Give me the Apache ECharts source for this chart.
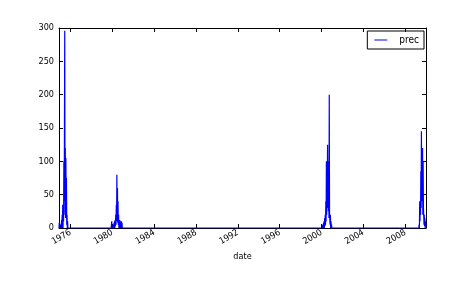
<!DOCTYPE html>
<html>
<head>
<meta charset="utf-8">
<script src="https://cdn.jsdelivr.net/npm/echarts@6/dist/echarts.min.js"></script>
<style>
html,body{margin:0;padding:0;background:#fff;}
#chart{width:474px;height:286px;}
</style>
</head>
<body>
<div id="chart"></div>
<script>
// ---- data ----
const seriesName = 'prec';
const xAxisName = 'date';
const stepDays = 10;
const clusterStarts = ['1974-11-25', '1979-11-20', '2000-01-20', '2009-04-20'];
const prec1975 = [0, 8, 0, 4, 0, 2, 0, 6, 0, 12, 0, 20, 5, 35, 0, 33, 10, 100, 20, 138, 296, 40, 120, 15, 105, 30, 75, 5, 20, 0, 10, 0];
const prec1980 = [0, 0, 10, 0, 3, 0, 2, 0, 5, 0, 8, 2, 10, 0, 12, 3, 20, 5, 35, 10, 80, 15, 60, 8, 40, 5, 20, 0, 10, 2, 12, 0, 8, 0, 10, 0, 10, 0, 8, 0, 0];
const prec2000 = [0, 2, 0, 5, 0, 8, 2, 10, 0, 15, 3, 20, 5, 40, 10, 100, 20, 100, 30, 125, 60, 100, 25, 100, 15, 200, 20, 22, 5, 20, 0, 10, 0, 5, 0];
const prec2009 = [0, 5, 0, 40, 10, 40, 20, 85, 30, 145, 60, 120, 40, 120, 20, 100, 30, 20, 5, 20, 3, 15, 0, 10, 2, 5];
const clusters = [prec1975, prec1980, prec2000, prec2009];
const yTicks = [0, 50, 100, 150, 200, 250, 300];
const xTickYears = [1976, 1980, 1984, 1988, 1992, 1996, 2000, 2004, 2008];

function decYear(ms) {
  const d = new Date(ms);
  const y = d.getUTCFullYear();
  const s = Date.UTC(y, 0, 1), e = Date.UTC(y + 1, 0, 1);
  return y + (ms - s) / (e - s);
}

const data = [];
clusters.forEach((vals, ci) => {
  const t0 = Date.parse(clusterStarts[ci] + 'T00:00:00Z');
  vals.forEach((v, i) => {
    data.push([decYear(t0 + i * stepDays * 86400000), v]);
  });
});
const xMin = data[0][0];
const xMax = data[data.length - 1][0];

const FONT = "'DejaVu Sans Condensed', 'DejaVu Sans', sans-serif";
const black = '#000';

const baseX = {
  type: 'value',
  min: xMin,
  max: xMax,
  axisLine: { show: true, onZero: false, lineStyle: { color: black, width: 1 } },
  splitLine: { show: false },
};
const baseY = {
  type: 'value',
  min: 0,
  max: 300,
  interval: 50,
  axisLine: { show: true, lineStyle: { color: black, width: 1 } },
  splitLine: { show: false },
};

const chart = echarts.init(document.getElementById('chart'), null, { renderer: 'canvas' });
chart.setOption({
  animation: false,
  backgroundColor: '#fff',
  grid: { left: 59, right: 48, top: 28, bottom: 58, containLabel: false },
  legend: {
    data: [seriesName],
    right: 50,
    top: 31,
    orient: 'vertical',
    icon: 'rect',
    itemWidth: 13,
    itemHeight: 1,
    itemGap: 0,
    padding: [4, 5, 4, 7],
    borderColor: black,
    borderWidth: 1,
    textStyle: { fontFamily: FONT, fontSize: 10, color: black, padding: [0, 0, 0, 7] },
  },
  xAxis: [
    Object.assign({}, baseX, {
      position: 'bottom',
      name: xAxisName,
      nameLocation: 'middle',
      nameGap: 24,
      nameTextStyle: { fontFamily: FONT, fontSize: 9, color: black },
      axisTick: { show: true, inside: true, length: 4, customValues: xTickYears, lineStyle: { color: black } },
      axisLabel: {
        show: true, customValues: xTickYears, rotate: 30, margin: 4,
        fontFamily: FONT, fontSize: 9, color: black,
        formatter: v => String(Math.round(v)),
      },
    }),
    Object.assign({}, baseX, {
      position: 'top',
      axisTick: { show: true, inside: true, length: 4, customValues: xTickYears, lineStyle: { color: black } },
      axisLabel: { show: false },
    }),
  ],
  yAxis: [
    Object.assign({}, baseY, {
      position: 'left',
      axisTick: { show: true, inside: true, length: 4, lineStyle: { color: black } },
      axisLabel: { show: true, margin: 5, fontFamily: FONT, fontSize: 9, color: black, customValues: yTicks },
    }),
    Object.assign({}, baseY, {
      position: 'right',
      axisTick: { show: true, inside: true, length: 4, lineStyle: { color: black } },
      axisLabel: { show: false },
    }),
  ],
  series: [{
    name: seriesName,
    type: 'line',
    xAxisIndex: 0,
    yAxisIndex: 0,
    data: data,
    showSymbol: false,
    symbol: 'none',
    color: '#0000ff',
    lineStyle: { color: '#0000ff', width: 1.2 },
    z: 1,
  }],
});
</script>
</body>
</html>
